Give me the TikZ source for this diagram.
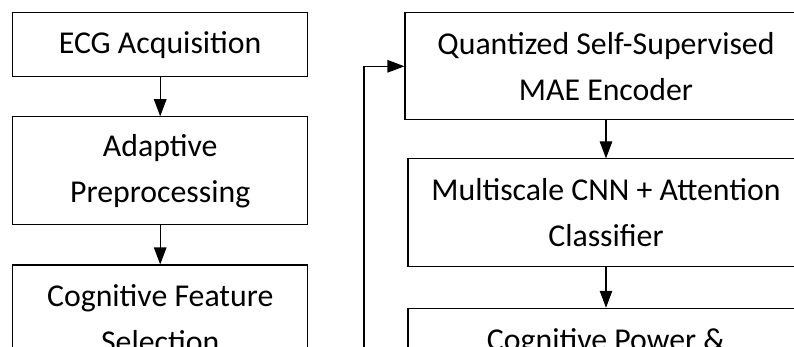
\documentclass[tikz,border=0pt]{standalone}
\usepackage{fontspec}
\setmainfont{Carlito}
\usetikzlibrary{arrows.meta}

\tikzset{
  stage/.style={draw=black, line width=1.1pt, rectangle, inner sep=0pt,
    align=center, text=black, font=\fontsize{31.8}{46}\selectfont},
  flow/.style={draw=black, line width=1.1pt,
    -{Triangle[length=17pt,width=12.5pt]}}
}

\begin{document}
\begin{tikzpicture}[x=1pt, y=-1pt]
  \clip (0,0) rectangle (794,347);

  % left column
  \node[stage, minimum width=295pt, minimum height=64pt]  (acq)  at (160.2,44.7)  {ECG Acquisition};
  \node[stage, minimum width=295pt, minimum height=108pt] (prep) at (160.2,170.8) {Adaptive\\Preprocessing};
  \node[stage, minimum width=295pt, minimum height=108pt] (feat) at (160.2,319)   {Cognitive Feature\\Selection};

  % right column
  \node[stage, minimum width=402pt, minimum height=107.3pt] (enc) at (606,66.3)  {Quantized Self-Supervised\\MAE Encoder};
  \node[stage, minimum width=396pt, minimum height=107.7pt] (cls) at (606,212.8) {Multiscale CNN + Attention\\Classifier};
  \node[stage, minimum width=396pt, minimum height=108pt]   (pow) at (606,362.3) {Cognitive Power \&\\\mbox{}};

  % connectors
  \draw[flow] (acq)  -- (prep);
  \draw[flow] (prep) -- (feat);
  \draw[flow] (enc)  -- (cls);
  \draw[flow] (cls)  -- (pow);

  % feedback line entering the encoder from below
  \coordinate (fb) at (364,420);
  \draw[flow] (fb) |- (enc.west);
\end{tikzpicture}
\end{document}
